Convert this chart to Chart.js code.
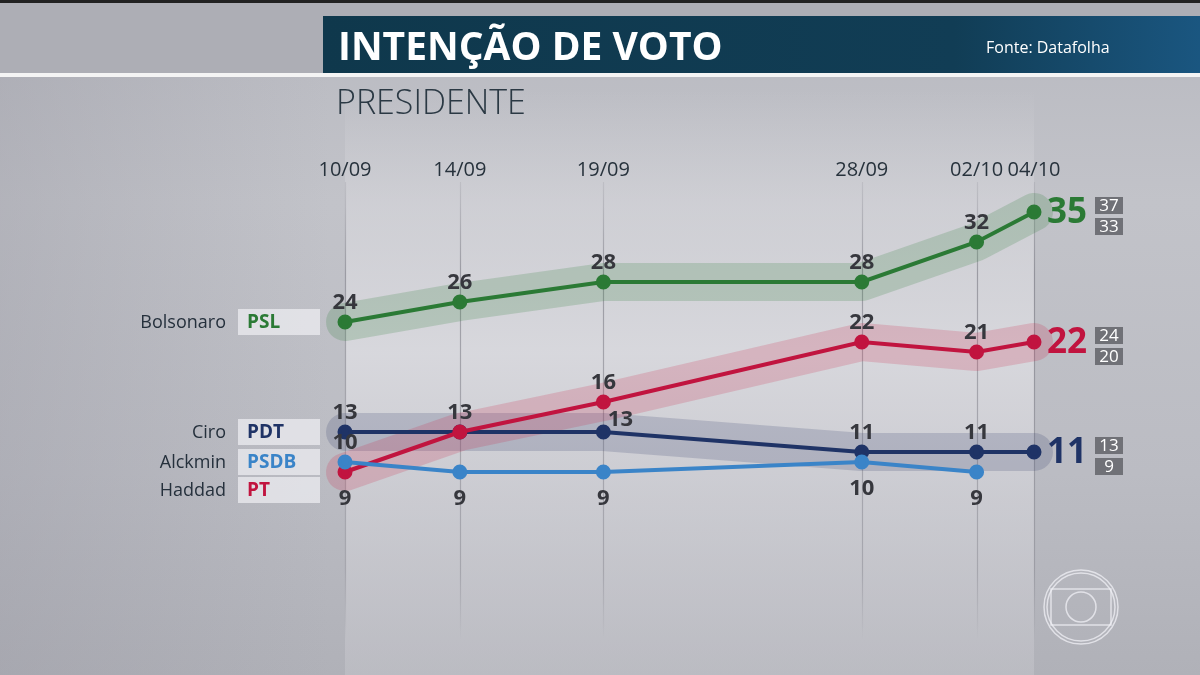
<!DOCTYPE html>
<html>
<head>
<meta charset="utf-8">
<script src="https://cdn.jsdelivr.net/npm/chart.js@4.4.1/dist/chart.umd.min.js"></script>
<style>
  html, body { margin: 0; padding: 0; background: #b9bac1; }
  #wrap { width: 1200px; height: 675px; }
</style>
</head>
<body>
<div id="wrap"><canvas id="c" width="1200" height="675"></canvas></div>
<script>
// datas das pesquisas (dia contado a partir de 1/09)
const dates = ['10/09', '14/09', '19/09', '28/09', '02/10', '04/10'];
const days = [10, 14, 19, 28, 32, 34];

const bolsonaro = [24, 26, 28, 28, 32, 35];
const haddad = [9, 13, 16, 22, 21, 22];
const ciro = [13, 13, 13, 11, 11, 11];
const alckmin = [10, 9, 9, 10, 9, null];

// margem de erro da ultima pesquisa
const bolsonaroRange = [37, 33];
const haddadRange = [24, 20];
const ciroRange = [13, 9];

const GREEN = '#2b7a35', RED = '#c1143f', NAVY = '#1f3366', BLUE = '#3a84c8';

const pts = vals => vals.map((v, i) => ({ x: days[i], y: v }));

const line = (label, vals, color, marks) => ({
    label, data: pts(vals), borderColor: color, backgroundColor: color,
    borderWidth: 4, pointRadius: 5.5, pointHoverRadius: 5.5, order: 0,
    clip: false, tension: 0, spanGaps: false, marks
});

const glow = (vals, color) => ({
    label: 'glow', data: pts(vals), borderColor: color, borderWidth: 38,
    borderCapStyle: 'round', borderJoinStyle: 'round',
    pointRadius: 0, pointHoverRadius: 0, order: 1, clip: false, glow: true
});

const legend = [
    { name: 'Bolsonaro', party: 'PSL', color: GREEN, first: bolsonaro[0] },
    { name: 'Ciro', party: 'PDT', color: NAVY, first: ciro[0] },
    { name: 'Alckmin', party: 'PSDB', color: BLUE, first: alckmin[0] },
    { name: 'Haddad', party: 'PT', color: RED, first: haddad[0] }
];

const backdrop = {
    id: 'backdrop',
    beforeDraw(chart) {
        const c = chart.ctx, x = chart.scales.x;
        const x0 = x.getPixelForValue(days[0]), x1 = x.getPixelForValue(days[days.length - 1]);
        c.save();
        let g = c.createLinearGradient(0, 0, 0, 675);
        g.addColorStop(0, '#b8b9c0'); g.addColorStop(0.3, '#c2c3c9');
        g.addColorStop(0.7, '#bbbcc3'); g.addColorStop(1, '#b0b1b8');
        c.fillStyle = g; c.fillRect(0, 0, 1200, 675);
        // darker left side
        g = c.createLinearGradient(0, 0, 330, 0);
        g.addColorStop(0, 'rgba(150,150,160,0.35)'); g.addColorStop(1, 'rgba(150,150,160,0)');
        c.fillStyle = g; c.fillRect(0, 76, 330, 600);
        // lighter panel
        g = c.createLinearGradient(0, 90, 0, 675);
        g.addColorStop(0, 'rgba(215,215,220,0)'); g.addColorStop(0.2, 'rgba(215,215,220,0.6)');
        g.addColorStop(0.45, 'rgba(218,218,223,0.9)');
        g.addColorStop(1, 'rgba(200,200,206,0.45)');
        c.fillStyle = g; c.fillRect(x0, 90, x1 - x0, 585);
        // top strip
        c.fillStyle = '#adaeb5'; c.fillRect(0, 0, 1200, 74);
        c.fillStyle = '#222'; c.fillRect(0, 0, 1200, 3);
        c.fillStyle = '#f4f4f4'; c.fillRect(0, 73, 1200, 4);
        // banner
        g = c.createLinearGradient(323, 0, 1200, 0);
        g.addColorStop(0, '#0f384c'); g.addColorStop(0.72, '#113d55'); g.addColorStop(1, '#1a5680');
        c.fillStyle = g; c.fillRect(323, 16, 877, 57);
        c.fillStyle = '#ffffff';
        c.font = 'bold 39px "Open Sans"'; c.textBaseline = 'alphabetic'; c.textAlign = 'left';
        c.fillText('INTENÇÃO DE VOTO', 338, 60);
        c.font = '16px "Open Sans"';
        c.fillText('Fonte: Datafolha', 986, 53);
        // subtitle
        c.fillStyle = '#2b3944';
        c.font = '300 34px "Open Sans"';
        c.fillText('PRESIDENTE', 336, 114);
        // grid lines + dates
        c.font = '20px "Open Sans"'; c.textAlign = 'center'; c.fillStyle = '#27323c';
        days.forEach((d, i) => {
            const px = x.getPixelForValue(d);
            const lg = c.createLinearGradient(0, 182, 0, 640);
            lg.addColorStop(0, 'rgba(110,110,120,0.15)'); lg.addColorStop(0.2, 'rgba(110,110,120,0.55)');
            lg.addColorStop(0.85, 'rgba(110,110,120,0.35)'); lg.addColorStop(1, 'rgba(110,110,120,0)');
            c.strokeStyle = lg; c.lineWidth = 1.2;
            c.beginPath(); c.moveTo(Math.round(px) + 0.5, 182); c.lineTo(Math.round(px) + 0.5, 640); c.stroke();
            c.fillText(dates[i], px, 176);
        });
        // legend
        const y = chart.scales.y;
        let prev = -1e9;
        legend.forEach(l => {
            let py = y.getPixelForValue(l.first);
            if (py < prev + 28) py = prev + 28;
            prev = py;
            c.fillStyle = 'rgba(236,236,240,0.75)';
            c.fillRect(238, py - 13, 82, 26);
            c.fillStyle = '#25303c'; c.font = '18px "Open Sans"'; c.textAlign = 'right'; c.textBaseline = 'middle';
            c.fillText(l.name, 226, py + 1);
            c.fillStyle = l.color; c.font = 'bold 19px "Open Sans"'; c.textAlign = 'left';
            c.fillText(l.party, 247, py + 1);
        });
        // globo logo
        c.strokeStyle = 'rgba(240,240,245,0.75)'; c.lineWidth = 1.5;
        c.beginPath(); c.arc(1081, 607, 37, 0, Math.PI * 2); c.stroke();
        c.beginPath(); c.arc(1081, 607, 34, 0, Math.PI * 2); c.stroke();
        c.strokeRect(1051, 589, 60, 36);
        c.beginPath(); c.arc(1081, 607, 15, 0, Math.PI * 2); c.stroke();
        c.restore();
    }
};

const ranges = { Bolsonaro: bolsonaroRange, Haddad: haddadRange, Ciro: ciroRange };

const valueLabels = {
    id: 'valueLabels',
    afterDatasetsDraw(chart) {
        const c = chart.ctx;
        c.save();
        chart.data.datasets.forEach((ds, di) => {
            if (ds.glow) return;
            const meta = chart.getDatasetMeta(di);
            meta.data.forEach((p, i) => {
                const v = ds.data[i].y, m = ds.marks[i];
                if (v == null || !m) return;
                c.textAlign = 'center'; c.textBaseline = 'middle';
                c.fillStyle = '#36373d'; c.font = 'bold 22px "Open Sans"';
                if (m === 'a') c.fillText(v, p.x, p.y - 19);
                else if (m === 'b') c.fillText(v, p.x, p.y + 27);
                else if (m === 'ar') c.fillText(v, p.x + 17, p.y - 12);
                else if (m === 'end') {
                    c.fillStyle = ds.borderColor; c.font = 'bold 35px "Open Sans"'; c.textAlign = 'left';
                    c.fillText(v, p.x + 13, p.y + 1);
                    const r = ranges[ds.label];
                    c.font = '17px "Open Sans"'; c.textAlign = 'center';
                    [[r[0], -15], [r[1], 6]].forEach(([t, off]) => {
                        c.fillStyle = '#707177'; c.fillRect(p.x + 61, p.y + off, 28, 17);
                        c.fillStyle = '#ffffff'; c.fillText(t, p.x + 75, p.y + off + 9);
                    });
                }
            });
        });
        c.restore();
    }
};

new Chart(document.getElementById('c'), {
    type: 'line',
    data: {
        datasets: [
            line('Bolsonaro', bolsonaro, GREEN, ['a', 'a', 'a', 'a', 'a', 'end']),
            line('Alckmin', alckmin, BLUE, ['a', 'b', 'b', 'b', 'b', '']),
            line('Haddad', haddad, RED, ['b', '', 'a', 'a', 'a', 'end']),
            line('Ciro', ciro, NAVY, ['a', 'a', 'ar', 'a', 'a', 'end']),
            glow(bolsonaro, 'rgba(45,125,55,0.2)'),
            glow(haddad, 'rgba(205,40,75,0.2)'),
            glow(ciro, 'rgba(55,65,110,0.2)')
        ]
    },
    options: {
        responsive: false,
        animation: false,
        layout: { padding: { left: 345, right: 166, top: 162, bottom: 113 } },
        scales: {
            x: { type: 'linear', min: days[0], max: days[days.length - 1], display: false },
            y: { min: 0, max: 40, display: false }
        },
        plugins: { legend: { display: false }, tooltip: { enabled: false } }
    },
    plugins: [backdrop, valueLabels]
});
</script>
</body>
</html>
